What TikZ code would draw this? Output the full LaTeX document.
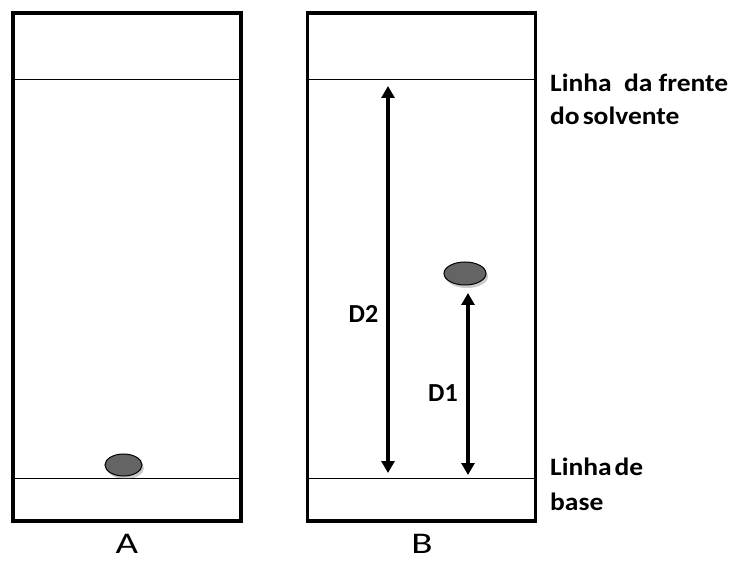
\documentclass[tikz,border=0pt]{standalone}
\usepackage{fontspec}
\setmainfont{Carlito}
\newfontfamily\lblfont[FakeStretch=1.1]{Carlito}
\newfontfamily\capfont[FakeStretch=1.3]{Carlito}
\usetikzlibrary{arrows.meta,shadows,shapes.geometric}
\begin{document}
\begin{tikzpicture}[x=1pt,y=-1pt,
  plate/.style={draw,line width=3.2pt,inner sep=0pt,minimum width=228pt,minimum height=508pt},
  thinline/.style={line width=1pt},
  spot/.style={ellipse,draw,line width=1pt,fill={rgb,255:red,100;green,100;blue,100},inner sep=0pt,
    drop shadow={shadow xshift=2pt,shadow yshift=-3pt,opacity=0.35,fill=black!60}},
  dim/.style={line width=3.6pt,{Triangle[length=12pt,width=13pt]}-{Triangle[length=12pt,width=13pt]}},
  lbl/.style={font=\lblfont\bfseries\fontsize{25}{29}\selectfont,anchor=base west,inner sep=0pt},
  dlbl/.style={font=\bfseries\fontsize{26}{30}\selectfont,inner sep=0pt},
  platename/.style={font=\capfont\fontsize{30}{34}\selectfont,inner sep=0pt,anchor=base}]
\useasboundingbox (0,0) rectangle (734,561);
\node[plate] (pa) at (127,267) {};
\node[plate] (pb) at (421.5,267) {};
% lines in A
\coordinate (af1) at (13,80); \coordinate (af2) at (241,80);
\coordinate (ab1) at (13,478); \coordinate (ab2) at (241,478);
\draw[thinline] (af1) -- (af2);
\draw[thinline] (ab1) -- (ab2);
% lines in B
\coordinate (bf1) at (307.5,80); \coordinate (bf2) at (535.5,80);
\coordinate (bb1) at (307.5,478); \coordinate (bb2) at (535.5,478);
\draw[thinline] (bf1) -- (bf2);
\draw[thinline] (bb1) -- (bb2);
% spots
\node[spot,minimum width=37pt,minimum height=22pt] (sa) at (123.5,465) {};
\node[spot,minimum width=42pt,minimum height=23pt] (sb) at (465,273.5) {};
% arrows
\coordinate (d2t) at (388,86); \coordinate (d2b) at (388,473);
\coordinate (d1t) at (468,293); \coordinate (d1b) at (468,475);
\draw[dim] (d2t) -- (d2b);
\draw[dim] (d1t) -- (d1b);
\node[dlbl] (d2) at (363.5,313.5) {D2};
\node[dlbl] (d1) at (443,393.5) {D1};
% labels
\node[lbl] (l1) at (550,92) {Linha\ \ da frente};
\node[lbl] (l2) at (550,125) {do\hspace{3pt}solvente};
\node[lbl] (l3) at (550,475) {Linha\hspace{3pt}de};
\node[lbl] (l4) at (550,510) {base};
\node[platename] (ca) at (127,553) {A};
\node[platename] (cb) at (422,553) {B};
\end{tikzpicture}
\end{document}
